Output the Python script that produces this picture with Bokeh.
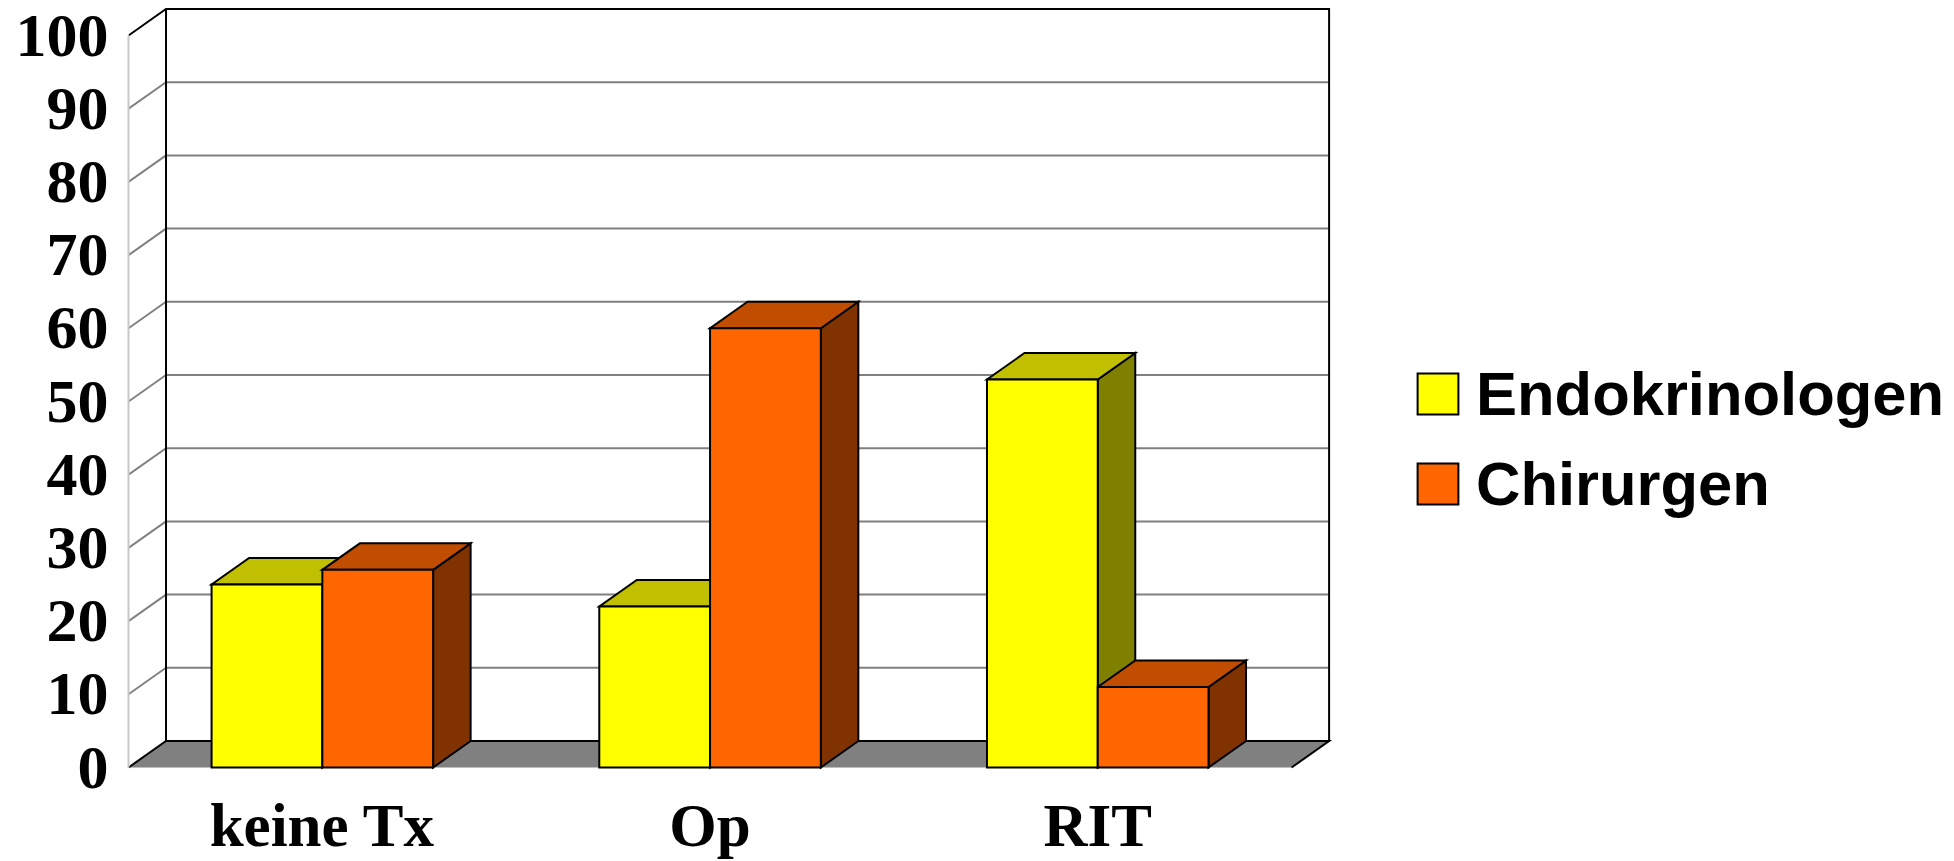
from bokeh.plotting import figure
from bokeh.models import Range1d, FixedTicker, Legend, LegendItem, ColumnDataSource
from bokeh.core.properties import value
from bokeh.embed import file_html
from bokeh.resources import INLINE

# --- data -------------------------------------------------------------
categories = ["keine Tx", "Op", "RIT"]
series_names = ["Endokrinologen", "Chirurgen"]
endokrinologen = [25, 22, 53]
chirurgen = [27, 60, 11]
y_ticks = [0, 10, 20, 30, 40, 50, 60, 70, 80, 90, 100]

# --- layout / style ---------------------------------------------------
W, H = 1954, 861
LEFT = 128                  # width of the tick-label column
FLOOR_PX = 767              # canvas row of the front floor edge (value 0)
LABEL_CENTER_PX = 825       # canvas row of the category label centres
FRAME_W = W - LEFT
PX_PER_CAT = 387.7          # horizontal pixels per category slot
PX_PER_VAL = 7.32           # vertical pixels per percentage point
DEPTH_PX = (37.5, 26.5)     # oblique depth of the 3-D box in pixels
GAP = 1.5                   # gap between clusters, as a fraction of bar width

n = len(categories)
dx = DEPTH_PX[0] / PX_PER_CAT
dy = DEPTH_PX[1] / PX_PER_VAL
bar_w = 1.0 / (len(series_names) + GAP)
y_max = y_ticks[-1]

faces = {
    "Endokrinologen": dict(front="#FFFF00", top="#C0C000", side="#808000"),
    "Chirurgen": dict(front="#FF6600", top="#C04D00", side="#803300"),
}
serif = "Liberation Serif"
sans = "Liberation Sans"

p = figure(width=W, height=H, output_backend="svg", toolbar_location=None,
           x_range=Range1d(-0.5, -0.5 + FRAME_W / PX_PER_CAT),
           y_range=Range1d(-(H - FLOOR_PX) / PX_PER_VAL, FLOOR_PX / PX_PER_VAL),
           min_border_left=LEFT, min_border_bottom=0,
           min_border_top=0, min_border_right=0)
p.outline_line_color = None
p.xgrid.visible = False
p.ygrid.visible = False
p.xaxis.visible = False
p.background_fill_color = "white"
p.border_fill_color = "white"

# --- walls and floor --------------------------------------------------
x0, x1 = -0.5, n - 0.5
# back wall
p.quad(left=[x0 + dx], right=[x1 + dx], bottom=[dy], top=[y_max + dy],
       fill_color="white", line_color=None)
# floor
p.patch(x=[x0, x0 + dx, x1 + dx, x1], y=[0, dy, dy, 0],
        fill_color="#808080", line_color=None)

inner = [t for t in y_ticks if 0 < t < y_max]
grid_kw = dict(line_color="#808080", line_width=2)
# gridlines on the back wall
p.segment(x0=[x0 + dx] * len(inner), y0=[t + dy for t in inner],
          x1=[x1 + dx] * len(inner), y1=[t + dy for t in inner], **grid_kw)
# gridlines on the left side wall
p.segment(x0=[x0] * len(inner), y0=inner,
          x1=[x0 + dx] * len(inner), y1=[t + dy for t in inner], **grid_kw)
# black box edges
p.multi_line(
    xs=[[x0, x0 + dx, x1 + dx, x1 + dx, x0 + dx, x0 + dx],
        [x0, x0 + dx, x1 + dx, x1],
        [x0 + dx, x0 + dx]],
    ys=[[y_max, y_max + dy, y_max + dy, dy, dy, y_max + dy],
        [0, dy, dy, 0],
        [dy, y_max + dy]],
    line_color="black", line_width=2, line_join="miter")

# --- 3-D bars ---------------------------------------------------------
values = {"Endokrinologen": endokrinologen, "Chirurgen": chirurgen}
geo = {}
for j, name in enumerate(series_names):
    lefts = [i - bar_w + j * bar_w for i in range(n)]
    rights = [l + bar_w for l in lefts]
    geo[name] = (lefts, rights, values[name])

line_kw = dict(line_color="black", line_width=2, line_join="miter")

for name in series_names:       # right-hand faces
    lefts, rights, vals = geo[name]
    p.patches(xs=[[r, r + dx, r + dx, r] for r in rights],
              ys=[[0, dy, v + dy, v] for v in vals],
              fill_color=faces[name]["side"], **line_kw)
for name in series_names:       # top faces
    lefts, rights, vals = geo[name]
    p.patches(xs=[[l, r, r + dx, l + dx] for l, r in zip(lefts, rights)],
              ys=[[v, v, v + dy, v + dy] for v in vals],
              fill_color=faces[name]["top"], **line_kw)
front_renderers = []
for name in series_names:       # front faces
    lefts, rights, vals = geo[name]
    src = ColumnDataSource(dict(left=lefts, right=rights, top=vals, bottom=[0] * n))
    r = p.quad(left="left", right="right", top="top", bottom="bottom", source=src,
               fill_color=faces[name]["front"], **line_kw)
    front_renderers.append(r)

# --- value axis -----------------------------------------------------------
yax = p.yaxis[0]
yax.ticker = FixedTicker(ticks=y_ticks)
yax.bounds = (0, y_max)
yax.axis_line_color = "#c8c8c8"
yax.axis_line_width = 2
yax.major_tick_line_color = None
yax.minor_tick_line_color = None
yax.major_tick_out = 0
yax.major_tick_in = 0
yax.minor_tick_out = 0
yax.major_label_standoff = 20
yax.major_label_text_font = serif
yax.major_label_text_font_style = "bold"
yax.major_label_text_font_size = "62px"
yax.major_label_text_color = "black"

# --- category labels under the floor ------------------------------------
label_y = -(LABEL_CENTER_PX - FLOOR_PX) / PX_PER_VAL
p.text(x=list(range(n)), y=[label_y] * n, text=categories,
       text_font=value(serif), text_font_style="bold", text_font_size="61px",
       text_color="black", text_align="center", text_baseline="middle")

# --- legend -------------------------------------------------------------
legend = Legend(
    items=[LegendItem(label=name, renderers=[r]) for name, r in zip(series_names, front_renderers)],
    location=(1284, 342),
    glyph_width=51, glyph_height=51,
    label_standoff=13, spacing=19, padding=0, margin=0,
    label_text_font=sans, label_text_font_style="bold",
    label_text_font_size="61.5px", label_text_color="black",
    border_line_color=None, background_fill_alpha=0,
)
p.add_layout(legend)

open("out.html", "w").write(file_html(p, INLINE))
